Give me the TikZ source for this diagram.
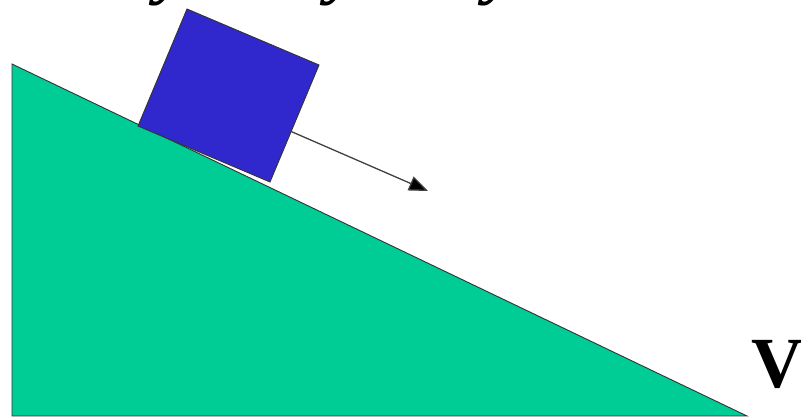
\documentclass[tikz,border=0pt]{standalone}
\usepackage{fontspec}
\setmainfont{Liberation Serif}
\usetikzlibrary{arrows.meta}
\definecolor{rampgreen}{RGB}{0,204,150}
\definecolor{blockblue}{RGB}{48,40,204}
\tikzset{
  shapeline/.style={draw=black!80, line width=0.9pt, line join=miter},
  motion/.style={draw=black!75, line width=1.3pt, -{Triangle[length=19pt,width=15pt,fill=black]}},
  toptext/.style={font=\fontsize{72}{72}\selectfont\bfseries\itshape, inner sep=0pt, anchor=base},
  bigv/.style={font=\fontsize{72}{72}\selectfont\bfseries, inner sep=0pt, anchor=base west}
}
\begin{document}
\begin{tikzpicture}[x=1pt,y=-1pt]
\useasboundingbox (0,0) rectangle (801,419);
\clip (0,0) rectangle (801,419);
% ramp
\coordinate (rtop) at (12,64);
\coordinate (rbl) at (12,416);
\coordinate (rbr) at (747,416);
\path[shapeline, fill=rampgreen] (rtop) -- (rbl) -- (rbr) -- cycle;
% block
\coordinate (bt) at (187,9);
\coordinate (br) at (319,65);
\coordinate (bb) at (270,182);
\coordinate (bl) at (138,126);
\path[shapeline, fill=blockblue] (bt) -- (br) -- (bb) -- (bl) -- cycle;
% velocity arrow
\coordinate (as) at (290,131);
\coordinate (ae) at (428,191);
\draw[motion] (as) -- (ae);
% V label
\node[bigv] (vlab) at (751,388) {V};
% clipped top text fragments
\node[toptext] (y1) at (172,-9) {y};
\node[toptext] (y2) at (343,-9) {y};
\node[toptext] (y3) at (501,-9) {y};
\end{tikzpicture}
\end{document}
